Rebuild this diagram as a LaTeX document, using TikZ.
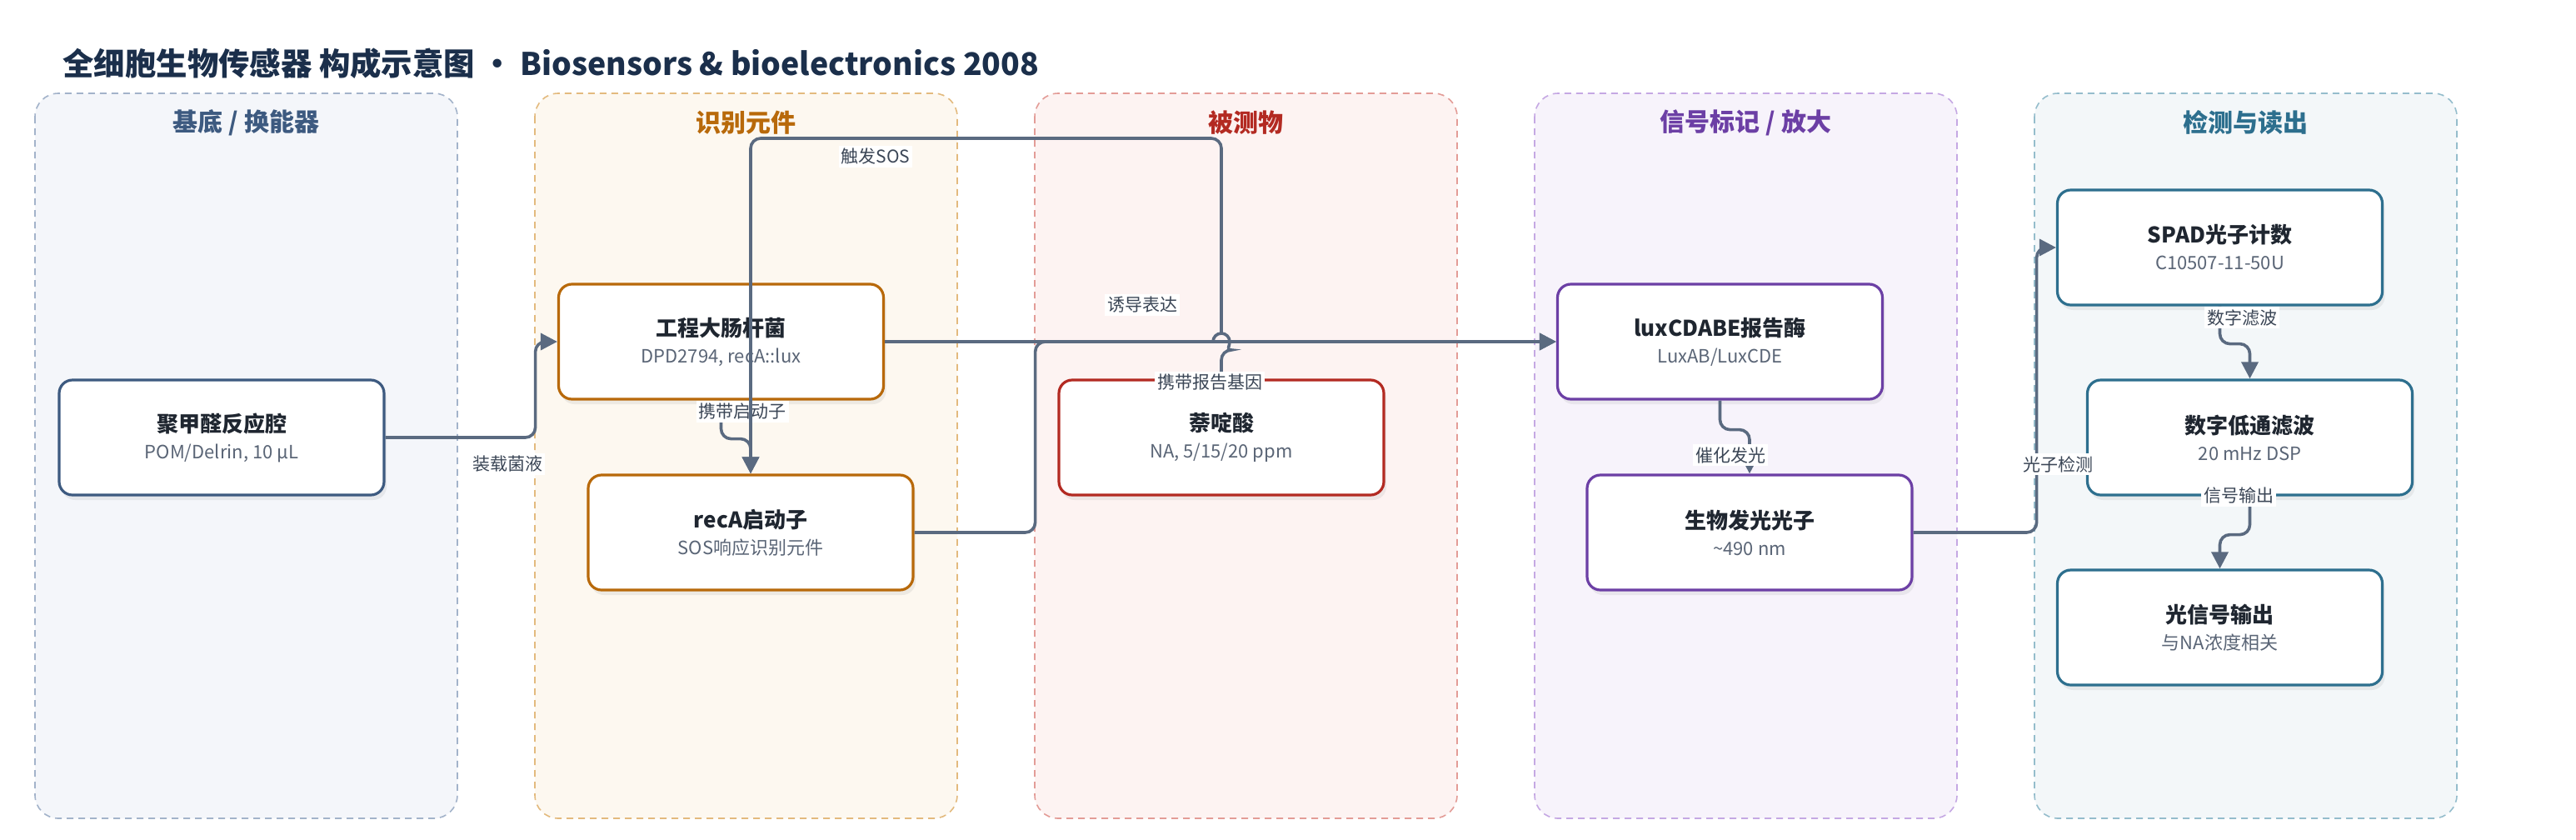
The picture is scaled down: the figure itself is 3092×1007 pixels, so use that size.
\documentclass[tikz,border=0pt]{standalone}
\usepackage{fontspec}
\setmainfont{Noto Sans CJK SC}
\usetikzlibrary{arrows.meta,shadows}

\definecolor{titlec}{HTML}{1B2F4B}
\definecolor{ink}{HTML}{1F2630}
\definecolor{subink}{HTML}{5A6576}
\definecolor{edgec}{HTML}{5A6A80}
\definecolor{labc}{HTML}{3B4656}
% lane colours: T title, F fill, B border
\definecolor{subT}{HTML}{3D5A80}\definecolor{subF}{HTML}{F4F6FA}\definecolor{subB}{HTML}{A3B3CA}
\definecolor{recT}{HTML}{B8690A}\definecolor{recF}{HTML}{FDF8F0}\definecolor{recB}{HTML}{E3BA7E}
\definecolor{anaT}{HTML}{B32A22}\definecolor{anaF}{HTML}{FDF3F2}\definecolor{anaB}{HTML}{E39C97}
\definecolor{sigT}{HTML}{6C3FA5}\definecolor{sigF}{HTML}{F7F3FB}\definecolor{sigB}{HTML}{C5A8E3}
\definecolor{detT}{HTML}{2D6F8E}\definecolor{detF}{HTML}{F3F7F9}\definecolor{detB}{HTML}{95BDCC}

\newcommand{\boxtext}[2]{{\fontsize{13}{16}\selectfont\bfseries\color{ink}#1}\\{\color{subink}#2}}

\begin{document}
\begin{tikzpicture}[x=0.5pt, y=-0.5pt,
  lane/.style={dash pattern=on 4pt off 3pt, line width=0.8pt, rounded corners=14pt},
  lanetitle/.style={font=\fontsize{15}{18}\selectfont\bfseries},
  box/.style={draw, line width=1.6pt, rounded corners=8pt, fill=white,
    minimum width=195pt, minimum height=69pt, align=center,
    font=\fontsize{11}{16}\selectfont,
    drop shadow={shadow xshift=1.5pt, shadow yshift=-3pt, opacity=0.12}},
  edge/.style={draw=edgec, line width=1.8pt, rounded corners=6pt,
    -{Triangle[length=10pt,width=10pt]}},
  elabel/.style={fill=white, inner sep=1.5pt, text=labc, font=\fontsize{10.5}{12}\selectfont}]
  \fill[white] (0,0) rectangle (3092,1007);
  \useasboundingbox (0,0) rectangle (3092,1007);
  % title
  \node[anchor=west, inner sep=0, text=titlec, font=\fontsize{18.7}{22}\selectfont\bfseries] (title)
    at (75,76) {全细胞生物传感器 构成示意图 • Biosensors \& bioelectronics 2008};
  % lanes
  \foreach \i/\t/\lc in {0/{基底 / 换能器}/sub, 1/识别元件/rec, 2/被测物/ana,
                         3/{信号标记 / 放大}/sig, 4/检测与读出/det} {
    \draw[lane, draw=\lc B, fill=\lc F] (42+600*\i,112) rectangle ++(507,870);
    \node[lanetitle, text=\lc T] (lane\i) at (295.5+600*\i,147) {\t};
  }
  % nodes
  \node[box, draw=subT] (pom)    at (266,525)    {\boxtext{聚甲醛反应腔}{POM/Delrin, 10 µL}};
  \node[box, draw=recT] (ecoli)  at (865.5,410)  {\boxtext{工程大肠杆菌}{DPD2794, recA::lux}};
  \node[box, draw=recT] (recA)   at (901,639)    {\boxtext{recA启动子}{SOS响应识别元件}};
  \node[box, draw=anaT] (na)     at (1466,525)   {\boxtext{萘啶酸}{NA, 5/15/20 ppm}};
  \node[box, draw=sigT] (lux)    at (2064.5,410) {\boxtext{luxCDABE报告酶}{LuxAB/LuxCDE}};
  \node[box, draw=sigT] (photon) at (2100,639)   {\boxtext{生物发光光子}{\textasciitilde490 nm}};
  \node[box, draw=detT] (spad)   at (2664.5,297) {\boxtext{SPAD光子计数}{C10507-11-50U}};
  \node[box, draw=detT] (lpf)    at (2700.5,525) {\boxtext{数字低通滤波}{20 mHz DSP}};
  \node[box, draw=detT] (out)    at (2664.5,753) {\boxtext{光信号输出}{与NA浓度相关}};
  % edges
  \draw[edge] (pom.east) -- ++(180,0) |- (ecoli.west);
  \draw[edge] (ecoli.south) -- ++(0,46) -| (recA.north);
  \node[elabel] (l-prom) at (891,494) {携带启动子};
  \draw[edge] (ecoli.east) -- (lux.west);
  \draw[edge] (recA.east) -- ++(145,0) |- (lux.west);
  % crossing hop over the reporter line
  \coordinate (hop) at (1466,410);
  \draw[edge] (na.north) -- ([yshift=-5pt]hop) [sharp corners] arc[start angle=90, end angle=-90, radius=10]
    [rounded corners=6pt] -- ++(0,-234) -| (recA.north);
  \draw[edgec, line width=1.8pt] ([yshift=5pt]hop) arc[start angle=-90, end angle=-180, radius=10];
  \draw[edge] (lux.south) -- ++(0,35) -| (photon.north);
  \draw[edge] (photon.east) -- ++(148,0) |- (spad.west);
  \draw[edge] (spad.south) -- ++(0,45) -| (lpf.north);
  \draw[edge] (lpf.south) -- ++(0,46) -| (out.north);
  % edge labels
  \node[elabel] (l-load)  at (609,557)  {装载菌液};
  \node[elabel] (l-sos)   at (1051,188) {触发SOS};
  \node[elabel] (l-rep)   at (1452,459) {携带报告基因};
  \node[elabel] (l-ind)   at (1371,366) {诱导表达};
  \node[elabel] (l-cat)   at (2077,546) {催化发光};
  \node[elabel] (l-det)   at (2470,557) {光子检测};
  \node[elabel] (l-filt)  at (2691,381) {数字滤波};
  \node[elabel] (l-sig)   at (2687,595) {信号输出};
\end{tikzpicture}
\end{document}
